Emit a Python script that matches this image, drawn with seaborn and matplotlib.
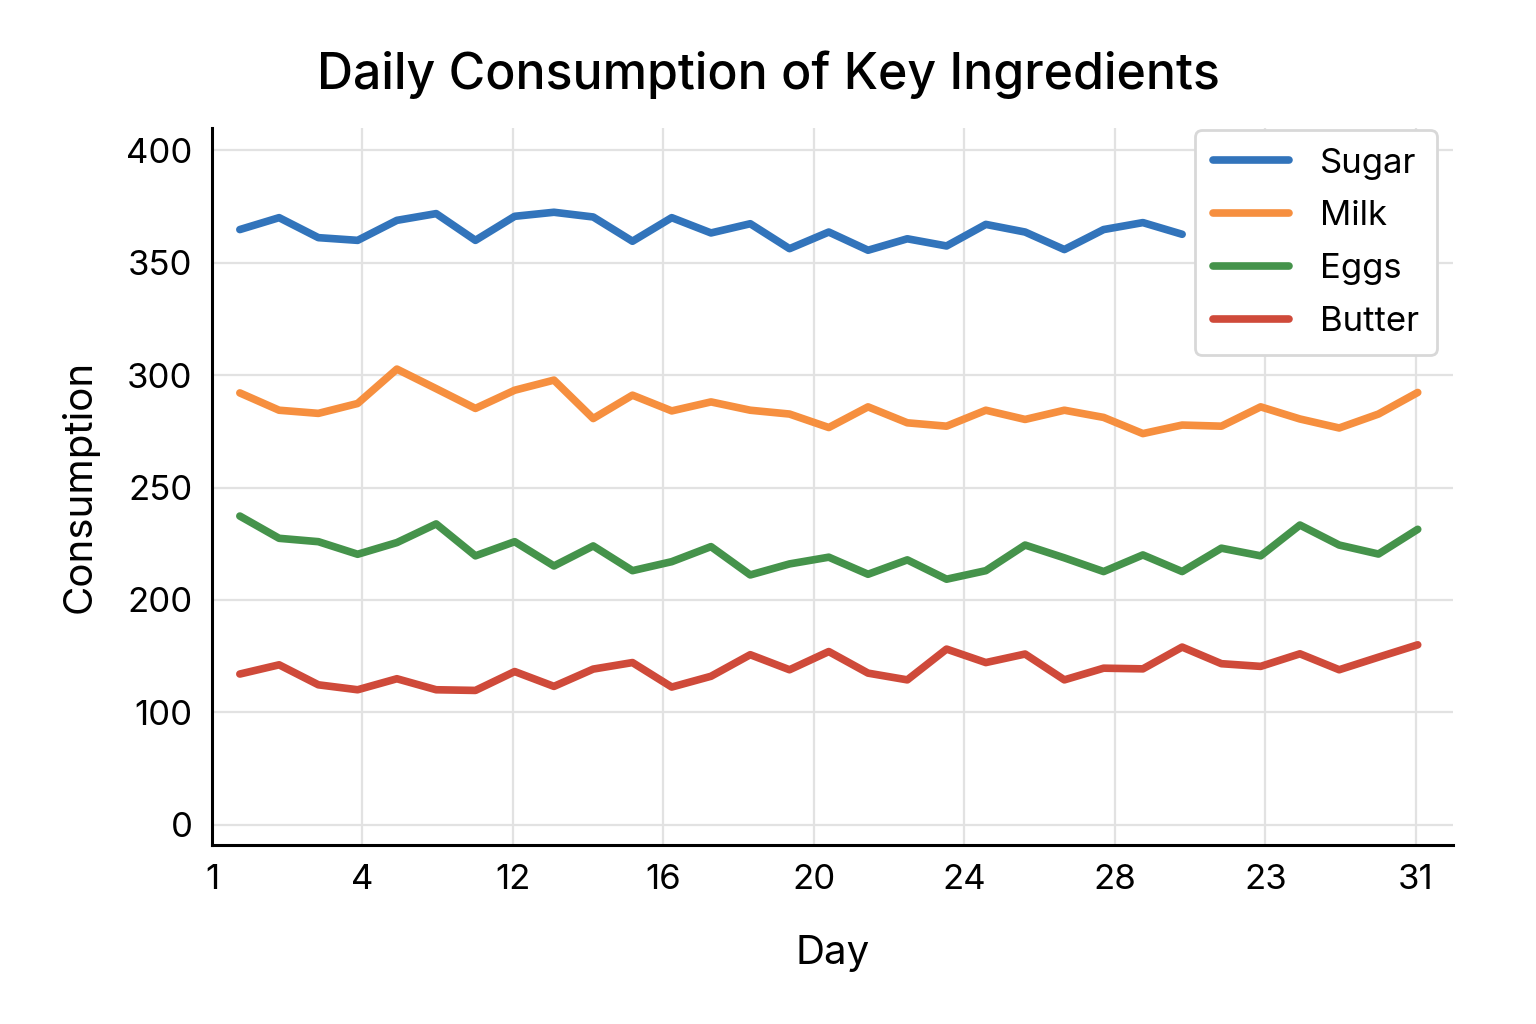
import numpy as np
import pandas as pd
import matplotlib.pyplot as plt
import seaborn as sns

# Values (31 days, sugar line stops at day 25)
days = list(range(1, 32))
sugar = [364.8, 370.1, 361.2, 360.0, 368.9, 371.9, 360.0, 370.7, 372.5, 370.4,
         359.6, 370.1, 363.3, 367.4, 356.3, 363.7, 355.6, 360.7, 357.5, 367.1,
         363.7, 355.9, 364.8, 367.9, 362.7]
milk = [292.1, 284.4, 283.0, 287.4, 302.7, 294.0, 285.2, 293.3, 297.8, 280.7,
        291.1, 284.1, 288.1, 284.4, 282.7, 276.7, 285.9, 278.8, 277.3, 284.4,
        280.3, 284.4, 281.2, 274.0, 277.8, 277.3, 285.9, 280.5, 276.5, 282.7, 292.3]
eggs = [237.3, 227.4, 225.9, 220.3, 225.5, 233.8, 219.6, 225.9, 215.1, 224.0,
        213.0, 217.0, 223.7, 211.1, 216.0, 219.0, 211.4, 217.8, 209.2, 213.0,
        224.4, 218.7, 212.6, 220.0, 212.6, 223.0, 219.6, 233.3, 224.4, 220.4, 231.4]
butter = [167.0, 171.1, 162.2, 160.0, 164.9, 160.0, 159.7, 168.1, 161.5, 169.2,
          172.1, 161.2, 166.0, 175.6, 168.9, 177.0, 167.4, 164.4, 178.1, 172.1,
          175.9, 164.4, 169.6, 169.3, 179.0, 171.6, 170.4, 176.0, 168.9, 174.5, 180.0]

ingredients = ['Sugar', 'Milk', 'Eggs', 'Butter']
colors = ['#3274bb', '#f68f3f', '#45934b', '#cf4a3a']

# tick labels as printed on the chart
y_ticks = [100, 150, 200, 250, 300, 350, 400]
y_tick_labels = ['0', '100', '200', '250', '300', '350', '400']
x_tick_labels = ['1', '4', '12', '16', '20', '24', '28', '23', '31']
x_ticks = np.linspace(0.29, 30.95, len(x_tick_labels))

# long-form table for seaborn
frames = []
for name, vals in zip(ingredients, [sugar, milk, eggs, butter]):
    frames.append(pd.DataFrame({'Day': days[:len(vals)],
                                'Consumption': vals,
                                'Ingredient': name}))
df = pd.concat(frames, ignore_index=True)

sns.set_style('whitegrid', {'grid.color': '#e2e2e2', 'axes.edgecolor': 'black'})
plt.rcParams['font.family'] = ['Inter', 'DejaVu Sans']
plt.rcParams['text.color'] = 'black'
plt.rcParams['axes.labelcolor'] = 'black'
plt.rcParams['xtick.color'] = 'black'
plt.rcParams['ytick.color'] = 'black'

fig = plt.figure(figsize=(15.36, 10.24), dpi=100)
ax = fig.add_axes([0.138, 0.175, 0.808, 0.70])

sns.lineplot(data=df, x='Day', y='Consumption', hue='Ingredient',
             palette=colors, linewidth=5.5, ax=ax, solid_capstyle='round')

ax.set_xlim(0.29, 31.9)
ax.set_ylim(91, 410)
ax.set_xticks(x_ticks)
ax.set_xticklabels(x_tick_labels)
ax.set_yticks(y_ticks)
ax.set_yticklabels(y_tick_labels)
ax.tick_params(axis='both', labelsize=25, length=8, width=1.5, pad=6)
ax.grid(True, linewidth=1.6, color='#e2e2e2')

for side in ['top', 'right']:
    ax.spines[side].set_visible(False)
for side in ['left', 'bottom']:
    ax.spines[side].set_linewidth(2.2)
    ax.spines[side].set_color('black')

ax.set_xlabel('Day', fontsize=29, labelpad=28)
ax.set_ylabel('Consumption', fontsize=29, labelpad=20)

leg = ax.legend(loc='upper right', bbox_to_anchor=(0.987, 0.997), borderaxespad=0,
                fontsize=25, frameon=True, framealpha=1, edgecolor='#d8d8d8',
                handlelength=2.2, handletextpad=0.9, borderpad=0.5,
                labelspacing=0.6, fancybox=True)
leg.get_frame().set_linewidth(2)
for line in leg.get_lines():
    line.set_linewidth(5.5)
    line.set_solid_capstyle('round')

fig.text(0.5, 0.927, 'Daily Consumption of Key Ingredients', ha='center',
         va='center', fontsize=36, fontweight='medium')

plt.savefig('out.png', dpi=100)
